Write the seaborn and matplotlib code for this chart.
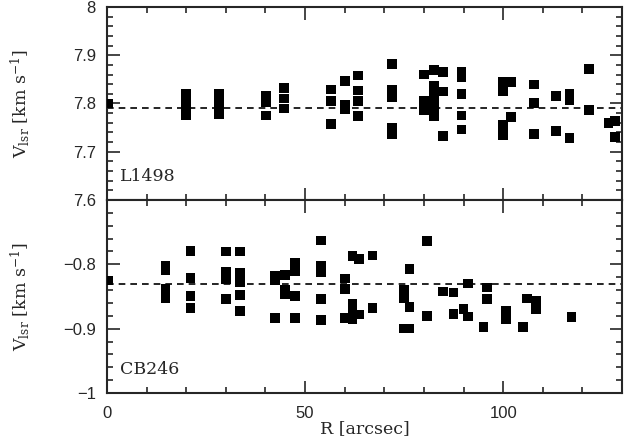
import numpy as np
import pandas as pd
import matplotlib
matplotlib.use('Agg')
import matplotlib.pyplot as plt
import seaborn as sns
from matplotlib.ticker import MultipleLocator, FuncFormatter

# L1498 (top panel): offset R [arcsec] and V_lsr [km/s]
r_l1498 = [0.3, 19.9, 19.9, 19.9, 19.9, 28.3, 28.3, 28.3, 28.3,
           40.1, 40.1, 40.1, 44.7, 44.7, 44.7,
           56.6, 56.6, 56.6, 60.0, 60.0, 60.0,
           63.4, 63.4, 63.4, 63.4,
           72.0, 72.0, 72.0, 72.0, 72.0,
           80.0, 80.0, 80.0,
           82.6, 82.6, 82.6, 82.6, 82.6, 82.6,
           84.8, 84.8, 84.8,
           89.5, 89.5, 89.5, 89.5, 89.5,
           100.0, 100.0, 100.0, 100.0, 102.0, 102.0,
           107.8, 107.8, 107.8, 113.3, 113.3,
           116.7, 116.7, 116.7, 121.7, 121.7,
           126.6, 128.3, 128.3]
v_l1498 = [7.800, 7.820, 7.805, 7.791, 7.776, 7.820, 7.805, 7.791, 7.778,
           7.816, 7.803, 7.775, 7.832, 7.810, 7.790,
           7.829, 7.805, 7.757, 7.847, 7.798, 7.788,
           7.858, 7.827, 7.805, 7.774,
           7.882, 7.829, 7.814, 7.750, 7.737,
           7.860, 7.806, 7.786,
           7.870, 7.836, 7.819, 7.805, 7.791, 7.774,
           7.865, 7.825, 7.733,
           7.865, 7.855, 7.820, 7.775, 7.746,
           7.844, 7.825, 7.755, 7.735, 7.844, 7.772,
           7.839, 7.801, 7.737, 7.815, 7.743,
           7.820, 7.806, 7.728, 7.872, 7.786,
           7.759, 7.764, 7.731]
mean_l1498 = 7.791

# CB246 (bottom panel)
r_cb246 = [0.3, 14.8, 14.8, 14.8, 14.8,
           21.1, 21.1, 21.1, 21.1,
           30.0, 30.0, 30.0, 30.0,
           33.5, 33.5, 33.5, 33.5, 33.5,
           42.4, 42.4, 42.4, 44.9, 44.9, 44.9,
           47.4, 47.4, 47.4, 47.4,
           54.0, 54.0, 54.0, 54.0, 54.0,
           60.0, 60.0, 60.0, 62.0, 62.0, 62.0, 62.0,
           63.6, 63.6, 67.0, 67.0,
           75.0, 75.0, 75.0, 76.4, 76.4, 76.4,
           80.7, 80.7, 84.8, 87.5, 87.5, 90.0, 91.2, 91.2,
           95.0, 96.0, 96.0, 100.7, 100.7, 105.0, 106.0,
           108.3, 108.3, 117.3]
v_cb246 = [-0.825, -0.803, -0.809, -0.838, -0.852,
           -0.779, -0.821, -0.849, -0.868,
           -0.780, -0.812, -0.823, -0.854,
           -0.780, -0.813, -0.828, -0.848, -0.873,
           -0.818, -0.824, -0.883, -0.817, -0.839, -0.847,
           -0.797, -0.810, -0.849, -0.883,
           -0.763, -0.803, -0.812, -0.854, -0.887,
           -0.822, -0.838, -0.883, -0.787, -0.862, -0.875, -0.886,
           -0.792, -0.878, -0.786, -0.868,
           -0.840, -0.853, -0.900, -0.807, -0.866, -0.900,
           -0.764, -0.880, -0.842, -0.844, -0.877, -0.869, -0.830, -0.881,
           -0.897, -0.836, -0.854, -0.873, -0.886, -0.897, -0.853,
           -0.857, -0.870, -0.882]
mean_cb246 = -0.830

df_top = pd.DataFrame({'R': r_l1498, 'V': v_l1498})
df_bot = pd.DataFrame({'R': r_cb246, 'V': v_cb246})

sns.set_style('ticks')
plt.rcParams['font.family'] = ['Liberation Sans', 'DejaVu Sans']
plt.rcParams['mathtext.fontset'] = 'dejavuserif'

fig, (ax1, ax2) = plt.subplots(2, 1, sharex=True, figsize=(6.25, 4.43), dpi=100)
fig.subplots_adjust(left=107/625, right=622/625, top=1 - 7/443, bottom=1 - 393/443, hspace=0)


def fmt(v, pos):
    s = f'{v:.1f}'.rstrip('0').rstrip('.')
    return s.replace('-', '\u2212')


panels = [(ax1, df_top, mean_l1498, (7.6, 8.0), 'L1498'),
          (ax2, df_bot, mean_cb246, (-1.0, -0.7), 'CB246')]
for ax, d, m, ylim, name in panels:
    sns.scatterplot(data=d, x='R', y='V', marker='s', s=48, color='black',
                    edgecolor='none', ax=ax, clip_on=True, zorder=3)
    ax.axhline(m, color='black', ls=(0, (4, 3)), lw=1.2)
    ax.set_xlim(0, 130)
    ax.set_ylim(*ylim)
    ax.xaxis.set_major_locator(MultipleLocator(50))
    ax.xaxis.set_minor_locator(MultipleLocator(10))
    ax.yaxis.set_major_locator(MultipleLocator(0.1))
    ax.yaxis.set_minor_locator(MultipleLocator(0.02))
    ax.yaxis.set_major_formatter(FuncFormatter(fmt))
    ax.tick_params(which='both', direction='in', top=True, right=True, labelsize=12, width=1.2)
    ax.tick_params(which='major', length=9)
    ax.tick_params(which='minor', length=4.5)
    ax.tick_params(axis='y', pad=8)
    ax.tick_params(axis='x', pad=9)
    for sp in ax.spines.values():
        sp.set_linewidth(1.5)
    ax.set_ylabel(r'V$_{\rm lsr}$ [km s$^{-1}$]', fontsize=12.5, family='DejaVu Serif')
    ax.yaxis.set_label_coords(-0.145, 0.5)
    ax.text(0.025, 0.1, name, transform=ax.transAxes, fontsize=12.5, family='DejaVu Serif')
    ax.set_xlabel('')

# hide -0.7 label on the lower panel (overlaps 7.6)
ax2.set_yticks([-1.0, -0.9, -0.8, -0.7])
ax2.set_yticklabels(['\u22121', '\u22120.9', '\u22120.8', ''])
ax1.xaxis.set_major_formatter(FuncFormatter(lambda v, p: f'{v:.0f}'))
ax2.xaxis.set_major_formatter(FuncFormatter(lambda v, p: f'{v:.0f}'))
ax2.set_xlabel('R [arcsec]', fontsize=12.5, family='DejaVu Serif', labelpad=0)

fig.savefig('out.png', dpi=100)
